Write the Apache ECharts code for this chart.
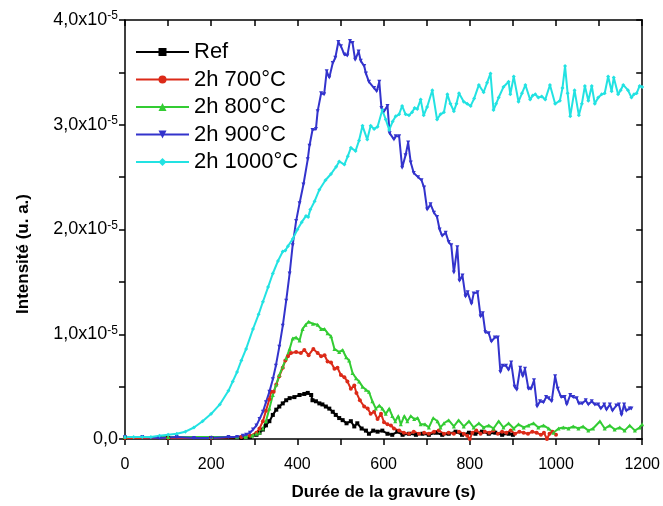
<!DOCTYPE html>
<html>
<head>
<meta charset="utf-8">
<script src="https://cdn.jsdelivr.net/npm/echarts@6/dist/echarts.min.js"></script>
<style>
html,body{margin:0;padding:0;background:#fff;}
#chart{width:663px;height:506px;}
</style>
</head>
<body>
<div id="chart"></div>
<script>
// Values in units of 1e-5 (u. a.), time in s
const seriesNames = ['Ref', '2h 700°C', '2h 800°C', '2h 900°C', '2h 1000°C'];
const xTicks = [0, 200, 400, 600, 800, 1000, 1200];
const yTicks = [0, 1, 2, 3, 4];

const refData = [[0,0.01],[100,0.01],[200,0.01],[270,0.01],[290,0.02],[305,0.04],[312,0.06],[320,0.09],[327,0.13],[335,0.17],[343,0.23],[351,0.28],[358,0.31],[366,0.34],[374,0.37],[382,0.39],[393,0.40],[405,0.42],[416,0.43],[424,0.44],[432,0.42],[435,0.37],[443,0.36],[451,0.34],[458,0.33],[466,0.31],[474,0.29],[482,0.26],[489,0.23],[497,0.20],[505,0.18],[514,0.15],[524,0.17],[532,0.12],[539,0.15],[549,0.10],[559,0.08],[566,0.05],[576,0.08],[586,0.07],[597,0.08],[609,0.05],[620,0.04],[632,0.07],[644,0.04],[659,0.05],[675,0.04],[690,0.05],[705,0.04],[721,0.06],[736,0.04],[751,0.05],[767,0.07],[782,0.04],[798,0.06],[813,0.05],[828,0.07],[844,0.05],[859,0.06],[875,0.04],[890,0.05],[900,0.04]];

const d700Data = [[0,0.01],[100,0.01],[200,0.01],[270,0.02],[290,0.03],[305,0.06],[312,0.10],[320,0.17],[327,0.27],[335,0.38],[339,0.45],[345,0.45],[351,0.52],[358,0.60],[366,0.68],[372,0.75],[378,0.79],[385,0.82],[397,0.83],[408,0.82],[416,0.85],[426,0.80],[437,0.86],[447,0.82],[455,0.79],[463,0.80],[470,0.74],[478,0.73],[486,0.67],[493,0.68],[501,0.61],[509,0.59],[516,0.55],[524,0.48],[532,0.51],[537,0.44],[545,0.37],[555,0.31],[563,0.29],[570,0.24],[578,0.26],[586,0.19],[594,0.24],[601,0.16],[609,0.14],[617,0.13],[624,0.10],[636,0.08],[647,0.06],[659,0.05],[670,0.07],[682,0.05],[694,0.06],[705,0.05],[717,0.07],[728,0.08],[740,0.05],[751,0.06],[763,0.05],[775,0.07],[786,0.05],[794,0.03],[800,0.00],[806,0.06],[815,0.08],[825,0.05],[835,0.07],[845,0.06],[855,0.08],[865,0.05],[875,0.07],[885,0.06],[895,0.08],[905,0.05],[915,0.07],[925,0.06],[935,0.05],[945,0.07],[955,0.06],[965,0.04],[972,0.06],[979,0.00],[985,0.05],[992,0.07],[1000,0.04]];

const d800Data = [[0,0.02],[100,0.02],[200,0.02],[260,0.02],[280,0.02],[295,0.03],[305,0.05],[312,0.06],[320,0.10],[327,0.17],[335,0.29],[343,0.42],[351,0.52],[358,0.61],[366,0.69],[374,0.77],[382,0.86],[389,0.96],[397,0.97],[405,0.94],[412,1.05],[419,1.09],[426,1.12],[436,1.10],[447,1.09],[455,1.05],[463,1.05],[470,1.01],[478,0.98],[486,0.86],[497,0.83],[505,0.85],[513,0.78],[520,0.75],[528,0.63],[536,0.58],[543,0.55],[551,0.50],[559,0.47],[566,0.45],[574,0.36],[582,0.29],[590,0.32],[597,0.29],[605,0.24],[613,0.29],[620,0.22],[627,0.17],[634,0.22],[640,0.14],[648,0.22],[655,0.17],[663,0.22],[671,0.19],[679,0.20],[686,0.14],[696,0.14],[705,0.11],[715,0.20],[725,0.17],[732,0.11],[740,0.15],[751,0.18],[763,0.12],[774,0.18],[786,0.12],[798,0.17],[809,0.11],[821,0.15],[832,0.11],[844,0.13],[855,0.10],[867,0.17],[878,0.11],[890,0.15],[902,0.10],[913,0.14],[925,0.11],[936,0.13],[948,0.15],[959,0.11],[971,0.13],[983,0.10],[994,0.06],[1006,0.10],[1017,0.11],[1029,0.10],[1040,0.12],[1052,0.10],[1063,0.12],[1075,0.08],[1086,0.10],[1102,0.17],[1113,0.10],[1125,0.13],[1136,0.09],[1148,0.11],[1159,0.08],[1171,0.13],[1183,0.08],[1194,0.11],[1200,0.14]];

const d900Data = [[0,0.02],[40,0.02],[80,0.01],[120,0.02],[160,0.01],[200,0.01],[240,0.02],[260,0.02],[273,0.03],[281,0.04],[290,0.06],[297,0.09],[305,0.13],[312,0.19],[320,0.26],[327,0.35],[335,0.45],[343,0.57],[350,0.70],[358,0.88],[366,1.08],[374,1.32],[382,1.58],[389,1.85],[397,2.08],[405,2.25],[414,2.43],[424,2.67],[428,2.80],[435,2.95],[443,2.96],[447,3.13],[455,3.30],[462,3.29],[468,3.51],[474,3.45],[482,3.59],[488,3.64],[495,3.79],[501,3.75],[509,3.67],[516,3.66],[522,3.80],[528,3.78],[534,3.62],[542,3.70],[547,3.61],[555,3.56],[559,3.49],[566,3.41],[578,3.35],[584,3.32],[590,3.41],[595,3.16],[601,3.13],[609,3.18],[614,2.92],[624,2.86],[628,2.89],[636,2.89],[643,2.59],[651,2.71],[657,2.83],[663,2.64],[670,2.54],[680,2.50],[688,2.47],[694,2.40],[701,2.19],[709,2.24],[717,2.16],[724,2.12],[730,2.00],[736,1.94],[744,1.97],[751,1.88],[757,1.85],[763,1.59],[771,1.83],[776,1.51],[783,1.56],[790,1.36],[795,1.40],[804,1.29],[809,1.39],[818,1.40],[825,1.17],[830,1.20],[836,1.02],[844,1.01],[850,0.93],[858,0.97],[865,0.97],[871,0.64],[876,0.70],[884,0.70],[890,0.66],[896,0.73],[904,0.50],[909,0.47],[917,0.68],[923,0.60],[928,0.67],[936,0.48],[942,0.48],[949,0.56],[956,0.31],[963,0.36],[971,0.35],[977,0.40],[983,0.39],[990,0.36],[998,0.60],[1004,0.48],[1012,0.40],[1020,0.40],[1025,0.33],[1033,0.42],[1040,0.40],[1048,0.39],[1053,0.34],[1061,0.34],[1069,0.37],[1075,0.33],[1083,0.36],[1090,0.33],[1098,0.33],[1104,0.29],[1112,0.33],[1117,0.28],[1125,0.33],[1131,0.27],[1140,0.32],[1146,0.33],[1152,0.23],[1158,0.33],[1163,0.27],[1171,0.29],[1175,0.29]];

const d1000Data = [[0,0.02],[20,0.02],[40,0.02],[60,0.02],[80,0.03],[100,0.04],[120,0.05],[140,0.07],[160,0.11],[180,0.17],[200,0.24],[220,0.33],[240,0.46],[250,0.55],[260,0.64],[270,0.75],[281,0.86],[297,1.05],[310,1.19],[320,1.31],[332,1.45],[343,1.58],[355,1.70],[366,1.79],[372,1.80],[378,1.84],[389,1.91],[400,2.00],[410,2.07],[420,2.13],[425,2.12],[430,2.19],[440,2.27],[451,2.38],[465,2.47],[478,2.53],[490,2.60],[497,2.65],[509,2.62],[517,2.70],[524,2.78],[535,2.75],[543,2.85],[551,2.99],[562,2.86],[570,2.99],[578,2.96],[586,2.98],[597,3.14],[605,3.05],[613,2.95],[621,3.03],[628,3.08],[636,3.10],[643,3.18],[651,3.10],[659,3.09],[666,3.12],[672,3.16],[678,3.15],[686,3.24],[693,3.09],[701,3.17],[713,3.33],[724,3.05],[732,3.10],[740,3.12],[748,3.29],[755,3.20],[763,3.13],[769,3.20],[775,3.30],[786,3.22],[794,3.20],[802,3.18],[810,3.25],[821,3.38],[832,3.31],[840,3.40],[848,3.49],[855,3.14],[861,3.20],[867,3.26],[878,3.36],[890,3.41],[894,3.29],[902,3.46],[913,3.22],[921,3.30],[929,3.38],[940,3.24],[946,3.28],[952,3.29],[959,3.26],[967,3.27],[975,3.24],[986,3.38],[998,3.20],[1009,3.23],[1015,3.35],[1021,3.56],[1027,3.30],[1033,3.08],[1043,3.33],[1053,3.09],[1060,3.20],[1067,3.37],[1075,3.23],[1083,3.37],[1090,3.20],[1098,3.26],[1106,3.29],[1113,3.30],[1121,3.46],[1129,3.32],[1134,3.45],[1144,3.29],[1150,3.33],[1156,3.38],[1167,3.33],[1175,3.26],[1181,3.29],[1187,3.30],[1194,3.37],[1200,3.36]];

const allData = [refData, d700Data, d800Data, d900Data, d1000Data];
const colors = ['#000000', '#dc2a18', '#33cc33', '#3333cc', '#22e2e2'];
const symbols = ['rect', 'circle', 'triangle', 'triangle', 'diamond'];
const symbolRotates = [0, 0, 0, 180, 0];

const FONT = '"Liberation Sans", Arial, sans-serif';
const chart = echarts.init(document.getElementById('chart'), null, {renderer: 'canvas'});

const axisLineStyle = {color: '#000', width: 1.5};
function xAxisCfg(pos, showLabel) {
  return {
    type: 'value', position: pos, min: xTicks[0], max: xTicks[xTicks.length - 1], interval: 200,
    axisLine: {show: true, onZero: false, lineStyle: axisLineStyle},
    axisTick: {show: true, inside: pos === 'top', length: 6, lineStyle: {color: '#000', width: 1.5}},
    minorTick: {show: true, splitNumber: 2, length: 6, lineStyle: {color: '#000', width: 1.5}},
    axisLabel: {show: showLabel, fontSize: 16, color: '#000', fontFamily: FONT, margin: 18,
      formatter: function (v) { return String(v); }},
    splitLine: {show: false}, minorSplitLine: {show: false},
    name: showLabel ? 'Durée de la gravure (s)' : '',
    nameLocation: 'middle', nameGap: 45,
    nameTextStyle: {fontSize: 17, fontWeight: 'bold', color: '#000', fontFamily: FONT}
  };
}
function yAxisCfg(pos, showLabel) {
  return {
    type: 'value', position: pos, min: yTicks[0], max: yTicks[yTicks.length - 1], interval: 1,
    axisLine: {show: true, onZero: false, lineStyle: axisLineStyle},
    axisTick: {show: true, inside: pos === 'right', length: 6, lineStyle: {color: '#000', width: 1.5}},
    minorTick: {show: true, splitNumber: 2, length: 6, lineStyle: {color: '#000', width: 1.5}},
    axisLabel: {
      show: showLabel, margin: 7, color: '#000',
      formatter: function (v) {
        if (v === 0) return '{a|0,0}';
        return '{a|' + v.toFixed(1).replace('.', ',') + 'x10}{b|-5}';
      },
      rich: {
        a: {fontSize: 18, fontFamily: FONT, color: '#000', lineHeight: 20},
        b: {fontSize: 12, fontFamily: FONT, color: '#000', verticalAlign: 'top', lineHeight: 12}
      }
    },
    splitLine: {show: false}, minorSplitLine: {show: false}
  };
}

const option = {
  backgroundColor: '#ffffff',
  animation: false,
  grid: {left: 125, right: 19, top: 20, bottom: 65, containLabel: false},
  xAxis: [xAxisCfg('bottom', true), xAxisCfg('top', false)],
  yAxis: [yAxisCfg('left', true), yAxisCfg('right', false)],
  legend: {
    orient: 'vertical', left: 130, top: 36,
    itemWidth: 53, itemHeight: 10, itemGap: 5.5,
    textStyle: {fontSize: 22, color: '#000', fontFamily: FONT, lineHeight: 21},
    data: seriesNames
  },
  graphic: [{
    type: 'text', x: 23, y: 254, rotation: Math.PI / 2,
    style: {text: 'Intensité (u. a.)', font: 'bold 17px ' + FONT, fill: '#000', align: 'center', verticalAlign: 'middle'}
  }],
  series: seriesNames.map(function (name, i) {
    return {
      name: name, type: 'line', xAxisIndex: 0, yAxisIndex: 0,
      data: allData[i],
      symbol: symbols[i], symbolSize: 4, symbolRotate: symbolRotates[i],
      showSymbol: true, showAllSymbol: true,
      lineStyle: {color: colors[i], width: 2},
      itemStyle: {color: colors[i]},
      color: colors[i]
    };
  })
};
chart.setOption(option);
</script>
</body>
</html>
